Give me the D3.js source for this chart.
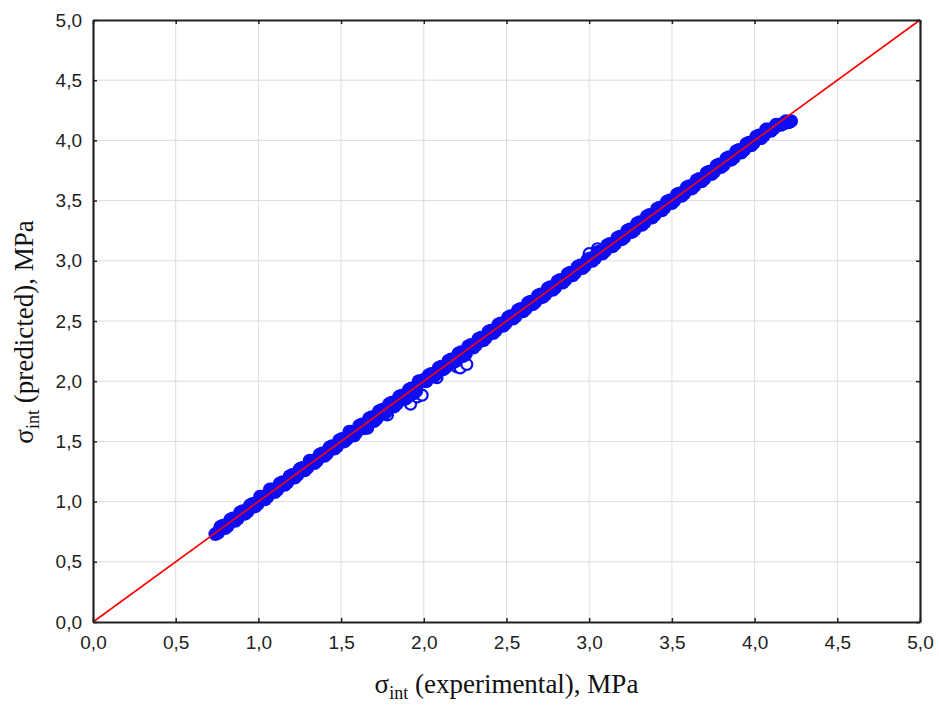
<!DOCTYPE html>
<html>
<head>
<meta charset="utf-8">
<script src="https://cdn.jsdelivr.net/npm/d3@7"></script>
<style>
  body { margin: 0; background: #fff; }
  svg { display: block; }
</style>
</head>
<body>
<div id="chart"></div>
<script>
// experimental vs predicted values
var expX = [0.74, 0.77, 0.80, 0.83, 0.86, 0.89, 0.92, 0.95, 0.98, 1.01, 1.04, 1.07, 1.10, 1.13, 1.16, 1.19, 1.22, 1.25, 1.28, 1.31,
  1.34, 1.37, 1.40, 1.43, 1.46, 1.49, 1.52, 1.55, 1.58, 1.61, 1.64, 1.67, 1.70, 1.73, 1.76, 1.79, 1.82, 1.85, 1.88, 1.91,
  1.94, 1.97, 2.00, 2.03, 2.06, 2.09, 2.12, 2.15, 2.18, 2.21, 2.24, 2.27, 2.30, 2.33, 2.36, 2.39, 2.42, 2.45, 2.48, 2.51,
  2.54, 2.57, 2.60, 2.63, 2.66, 2.69, 2.72, 2.75, 2.78, 2.81, 2.84, 2.87, 2.90, 2.93, 2.96, 2.99, 3.02, 3.05, 3.08, 3.11,
  3.14, 3.17, 3.20, 3.23, 3.26, 3.29, 3.32, 3.35, 3.38, 3.41, 3.44, 3.47, 3.50, 3.53, 3.56, 3.59, 3.62, 3.65, 3.68, 3.71,
  3.74, 3.77, 3.80, 3.83, 3.86, 3.89, 3.92, 3.95, 3.98, 4.01, 4.04, 4.07, 4.10, 4.13, 4.16, 4.19, 4.22];
var predY = [0.73, 0.79, 0.78, 0.85, 0.84, 0.91, 0.90, 0.97, 0.96, 1.04, 1.02, 1.10, 1.08, 1.15, 1.14, 1.21, 1.20, 1.27, 1.26, 1.34,
  1.32, 1.39, 1.38, 1.45, 1.44, 1.51, 1.50, 1.58, 1.55, 1.63, 1.61, 1.69, 1.67, 1.75, 1.73, 1.81, 1.79, 1.87, 1.85, 1.93,
  1.90, 2.00, 2.01, 2.05, 2.04, 2.11, 2.10, 2.17, 2.16, 2.23, 2.21, 2.29, 2.28, 2.35, 2.34, 2.41, 2.40, 2.47, 2.46, 2.53,
  2.52, 2.59, 2.58, 2.65, 2.64, 2.71, 2.70, 2.77, 2.76, 2.83, 2.82, 2.89, 2.88, 2.95, 2.94, 3.01, 3.00, 3.07, 3.06, 3.13,
  3.12, 3.19, 3.18, 3.25, 3.24, 3.31, 3.30, 3.37, 3.36, 3.43, 3.42, 3.49, 3.48, 3.55, 3.54, 3.61, 3.60, 3.67, 3.66, 3.73,
  3.72, 3.79, 3.78, 3.85, 3.84, 3.91, 3.90, 3.97, 3.96, 4.03, 4.02, 4.09, 4.08, 4.13, 4.13, 4.16, 4.16];
// second batch of samples lying between the ones above
var expX2 = [0.755, 0.785, 0.815, 0.845, 0.875, 0.905, 0.935, 0.965, 0.995, 1.025, 1.055, 1.085, 1.115, 1.145, 1.175, 1.205,
  1.235, 1.265, 1.295, 1.325, 1.355, 1.385, 1.415, 1.445, 1.475, 1.505, 1.535, 1.565, 1.595, 1.625, 1.655, 1.685, 1.715,
  1.745, 1.775, 1.805, 1.835, 1.865, 1.895, 1.925, 1.955, 1.985, 2.015, 2.045, 2.075, 2.105, 2.135, 2.165, 2.195, 2.225,
  2.255, 2.285, 2.315, 2.345, 2.375, 2.405, 2.435, 2.465, 2.495, 2.525, 2.555, 2.585, 2.615, 2.645, 2.675, 2.705, 2.735,
  2.765, 2.795, 2.825, 2.855, 2.885, 2.915, 2.945, 2.975, 3.005, 3.035, 3.065, 3.095, 3.125, 3.155, 3.185, 3.215, 3.245,
  3.275, 3.305, 3.335, 3.365, 3.395, 3.425, 3.455, 3.485, 3.515, 3.545, 3.575, 3.605, 3.635, 3.665, 3.695, 3.725, 3.755,
  3.785, 3.815, 3.845, 3.875, 3.905, 3.935, 3.965, 3.995, 4.025, 4.055, 4.085, 4.115, 4.145, 4.175, 4.205];
var predY2 = [0.74, 0.80, 0.80, 0.86, 0.86, 0.92, 0.92, 0.98, 0.98, 1.04, 1.04, 1.10, 1.10, 1.16, 1.16, 1.22,
  1.22, 1.28, 1.28, 1.34, 1.34, 1.40, 1.40, 1.46, 1.46, 1.52, 1.52, 1.58, 1.58, 1.64, 1.63, 1.70, 1.69,
  1.76, 1.75, 1.82, 1.81, 1.88, 1.86, 1.94, 1.92, 2.00, 2.00, 2.06, 2.06, 2.12, 2.12, 2.18, 2.17, 2.24,
  2.23, 2.30, 2.30, 2.36, 2.36, 2.42, 2.42, 2.48, 2.48, 2.54, 2.54, 2.60, 2.60, 2.66, 2.66, 2.72, 2.72,
  2.78, 2.78, 2.84, 2.84, 2.90, 2.90, 2.96, 2.96, 3.02, 3.02, 3.08, 3.08, 3.14, 3.14, 3.20, 3.20, 3.26,
  3.26, 3.32, 3.32, 3.38, 3.38, 3.44, 3.44, 3.50, 3.50, 3.56, 3.56, 3.62, 3.62, 3.68, 3.68, 3.74, 3.74,
  3.80, 3.80, 3.86, 3.86, 3.92, 3.92, 3.98, 3.98, 4.04, 4.04, 4.09, 4.10, 4.13, 4.14, 4.15];
// a few stragglers below/above the band (these show as open rings)
var outX = [1.66, 1.78, 1.90, 1.92, 1.96, 1.99, 2.08, 2.20, 2.22, 2.26, 3.00, 3.05];
var outY = [1.61, 1.72, 1.85, 1.81, 1.87, 1.885, 2.03, 2.12, 2.11, 2.14, 3.06, 3.10];
var tickVals = [0, 0.5, 1, 1.5, 2, 2.5, 3, 3.5, 4, 4.5, 5];
var tickLabels = ['0,0', '0,5', '1,0', '1,5', '2,0', '2,5', '3,0', '3,5', '4,0', '4,5', '5,0'];

var W = 939, H = 709;
var margin = {left: 93, right: 19, top: 20, bottom: 87};
var blue = '#0c0cf5';

var svg = d3.select('#chart').append('svg')
  .attr('width', W)
  .attr('height', H);

var x = d3.scaleLinear().domain([0, 5]).range([margin.left, W - margin.right]);
var y = d3.scaleLinear().domain([0, 5]).range([H - margin.bottom, margin.top]);

// grid
svg.append('g').selectAll('line')
  .data(tickVals.slice(1, -1))
  .enter().append('line')
  .attr('x1', function(d) { return x(d); })
  .attr('x2', function(d) { return x(d); })
  .attr('y1', y(0)).attr('y2', y(5))
  .attr('stroke', '#dcdcdc').attr('stroke-width', 1);
svg.append('g').selectAll('line')
  .data(tickVals.slice(1, -1))
  .enter().append('line')
  .attr('y1', function(d) { return y(d); })
  .attr('y2', function(d) { return y(d); })
  .attr('x1', x(0)).attr('x2', x(5))
  .attr('stroke', '#dcdcdc').attr('stroke-width', 1);

// stragglers first, as open rings
svg.append('g').selectAll('circle')
  .data(outX)
  .enter().append('circle')
  .attr('cx', function(d) { return x(d); })
  .attr('cy', function(d, i) { return y(outY[i]); })
  .attr('r', 5.5)
  .attr('fill', '#fff')
  .attr('stroke', blue)
  .attr('stroke-width', 2.2);

// the dense band: overlapping markers read as solid
var pts = expX.map(function(d, i) { return [d, predY[i]]; })
  .concat(expX2.map(function(d, i) { return [d, predY2[i]]; }));
svg.append('g').selectAll('circle')
  .data(pts)
  .enter().append('circle')
  .attr('cx', function(d) { return x(d[0]); })
  .attr('cy', function(d) { return y(d[1]); })
  .attr('r', 7)
  .attr('fill', blue)
  .attr('stroke', 'none');

// the 1:1 line
svg.append('line')
  .attr('x1', x(0)).attr('y1', y(0))
  .attr('x2', x(5)).attr('y2', y(5))
  .attr('stroke', '#ff0000').attr('stroke-width', 1.6);

// axes with small inward ticks on all sides
function fmt(d) { return tickLabels[tickVals.indexOf(d)]; }
var axB = svg.append('g').attr('transform', 'translate(0,' + y(0) + ')')
  .call(d3.axisBottom(x).tickValues(tickVals).tickFormat(fmt).tickSizeInner(-4).tickSizeOuter(0).tickPadding(14));
var axL = svg.append('g').attr('transform', 'translate(' + x(0) + ',0)')
  .call(d3.axisLeft(y).tickValues(tickVals).tickFormat(fmt).tickSizeInner(-4).tickSizeOuter(0).tickPadding(11));
var axT = svg.append('g').attr('transform', 'translate(0,' + y(5) + ')')
  .call(d3.axisTop(x).tickValues(tickVals).tickFormat('').tickSizeInner(-4).tickSizeOuter(0));
var axR = svg.append('g').attr('transform', 'translate(' + x(5) + ',0)')
  .call(d3.axisRight(y).tickValues(tickVals).tickFormat('').tickSizeInner(-4).tickSizeOuter(0));

[axB, axL, axT, axR].forEach(function(g) {
  g.attr('font-size', 19).attr('font-family', 'Liberation Sans, Arial, sans-serif');
  g.select('.domain').attr('stroke', '#222').attr('stroke-width', 2.2);
  g.selectAll('.tick line').attr('stroke', '#222').attr('stroke-width', 1.5);
  g.selectAll('.tick text').attr('fill', '#222');
});

// axis titles
var xt = svg.append('text')
  .attr('x', (x(0) + x(5)) / 2)
  .attr('y', 693)
  .attr('text-anchor', 'middle')
  .attr('font-family', 'Liberation Serif, Times New Roman, serif')
  .attr('font-size', 27)
  .attr('fill', '#111');
xt.append('tspan').text('\u03c3');
xt.append('tspan').attr('font-size', 18).attr('dy', 6).text('int');
xt.append('tspan').attr('dy', -6).text(' (experimental), MPa');

var yt = svg.append('text')
  .attr('transform', 'translate(33,332) rotate(-90)')
  .attr('text-anchor', 'middle')
  .attr('font-family', 'Liberation Serif, Times New Roman, serif')
  .attr('font-size', 27)
  .attr('fill', '#111');
yt.append('tspan').text('\u03c3');
yt.append('tspan').attr('font-size', 18).attr('dy', 6).text('int');
yt.append('tspan').attr('dy', -6).text(' (predicted), MPa');
</script>
</body>
</html>
